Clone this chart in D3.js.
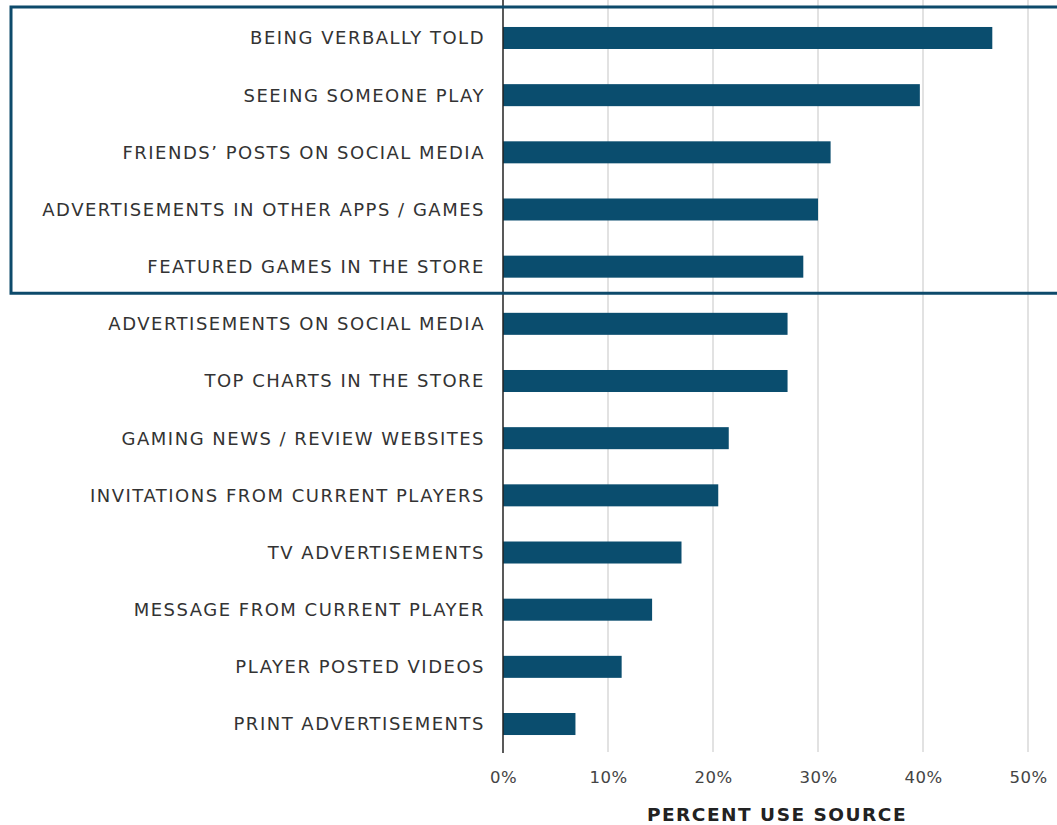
<!DOCTYPE html>
<html>
<head>
  <meta charset="utf-8">
  <script src="https://cdn.jsdelivr.net/npm/d3@7"></script>
  <style type="text/css">
    body {
      margin: 0;
      background: #fff;
      font-family: "DejaVu Sans", sans-serif;
    }
    .label {
      font-size: 18px;
      letter-spacing: 1.5px;
      fill: #333;
    }
    .tick text {
      font-size: 16.5px;
      letter-spacing: 0.5px;
      fill: #444;
    }
  </style>
</head>
<body>
  <script type="text/javascript">

  const sources = [
    'BEING VERBALLY TOLD',
    'SEEING SOMEONE PLAY',
    'FRIENDS\u2019 POSTS ON SOCIAL MEDIA',
    'ADVERTISEMENTS IN OTHER APPS / GAMES',
    'FEATURED GAMES IN THE STORE',
    'ADVERTISEMENTS ON SOCIAL MEDIA',
    'TOP CHARTS IN THE STORE',
    'GAMING NEWS / REVIEW WEBSITES',
    'INVITATIONS FROM CURRENT PLAYERS',
    'TV ADVERTISEMENTS',
    'MESSAGE FROM CURRENT PLAYER',
    'PLAYER POSTED VIDEOS',
    'PRINT ADVERTISEMENTS'
  ];
  const percents = [46.6, 39.7, 31.2, 30.0, 28.6, 27.1, 27.1, 21.5, 20.5, 17.0, 14.2, 11.3, 6.9];
  const tickValues = [0, 10, 20, 30, 40, 50];
  const highlighted = 5; // first five rows sit inside the box

  const width = 1057, height = 825;
  const left = 503;

  const svg = d3.select('body').append('svg')
    .attr('width', width)
    .attr('height', height);

  const x = d3.scaleLinear().domain([0, 50]).range([left, left + 525]);
  const y = d3.scaleBand().domain(sources).range([9.4, 752.6])
    .paddingInner(0.615).paddingOuter(0.3075);

  // gridlines
  svg.append('g').selectAll('line').data(tickValues.slice(1)).enter().append('line')
    .attr('x1', d => x(d)).attr('x2', d => x(d))
    .attr('y1', 0).attr('y2', 752)
    .attr('stroke', '#e2e2e2').attr('stroke-width', 2);

  // bars
  svg.append('g').selectAll('rect').data(percents).enter().append('rect')
    .attr('x', x(0))
    .attr('y', (d, i) => y(sources[i]))
    .attr('width', d => x(d) - x(0))
    .attr('height', y.bandwidth())
    .attr('fill', '#0a4d6e');

  // category labels
  svg.append('g').selectAll('text').data(sources).enter().append('text')
    .attr('class', 'label')
    .attr('x', 485)
    .attr('y', d => y(d) + y.bandwidth() / 2)
    .attr('dy', '0.36em')
    .attr('text-anchor', 'end')
    .text(d => d);

  // vertical axis line
  svg.append('line')
    .attr('x1', x(0)).attr('x2', x(0))
    .attr('y1', 0).attr('y2', 753)
    .attr('stroke', '#222').attr('stroke-width', 1.5);

  // highlight box round the top rows
  const boxBottom = y(sources[highlighted]) - (y.step() - y.bandwidth()) / 2 - 2;
  svg.append('rect')
    .attr('x', 11).attr('y', 7)
    .attr('width', width + 20).attr('height', boxBottom - 7)
    .attr('fill', 'none')
    .attr('stroke', '#0d4a6b').attr('stroke-width', 3);

  // x axis
  const axisX = d3.axisBottom(x).tickValues(tickValues)
    .tickFormat(d => d + '%').tickSize(0).tickPadding(0);
  svg.append('g')
    .attr('transform', 'translate(0,771)')
    .call(axisX)
    .call(g => g.select('.domain').remove())
    .selectAll('text').attr('font-family', '"DejaVu Sans", sans-serif');

  svg.append('text')
    .attr('x', 777).attr('y', 821)
    .attr('text-anchor', 'middle')
    .attr('font-size', 18.5).attr('font-weight', 'bold')
    .attr('letter-spacing', 1.5)
    .attr('fill', '#222')
    .text('PERCENT USE SOURCE');

  </script>
</body>
</html>
